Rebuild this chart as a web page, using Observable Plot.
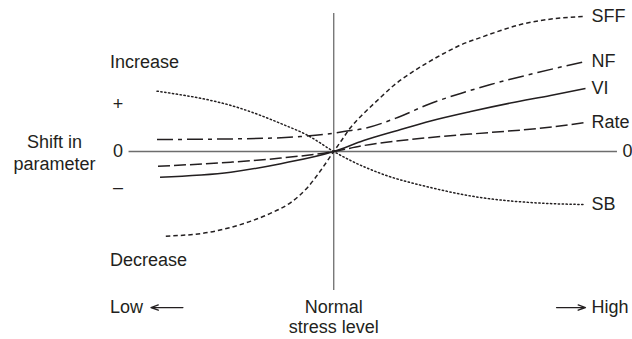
<!DOCTYPE html>
<html><head><meta charset="utf-8">
<script src="https://cdn.jsdelivr.net/npm/d3@7"></script>
<script src="https://cdn.jsdelivr.net/npm/@observablehq/plot@0.6"></script>
<style>
html,body{margin:0;padding:0;background:#fff;}
</style>
</head><body><div id="chart"></div>
<script>
// x: stress level (0 = normal, 1 = high end), y: shift in parameter
const sffX = [-0.667,-0.5,-0.409,-0.329,-0.250,-0.171,-0.103,-0.052,0,0.028,0.067,0.119,0.175,0.238,0.306,0.373,0.437,0.504,0.583,0.663,0.742,0.821,0.901,1.0];
const sffY = [-0.627,-0.600,-0.562,-0.516,-0.457,-0.378,-0.264,-0.141,0,0.074,0.178,0.282,0.381,0.489,0.581,0.659,0.726,0.789,0.844,0.896,0.941,0.970,0.989,1.0];
const nfX = [-0.702,-0.369,-0.131,0,0.040,0.119,0.254,0.385,0.516,0.623,0.810,1.0];
const nfY = [0.089,0.094,0.111,0.136,0.148,0.170,0.252,0.356,0.437,0.496,0.585,0.667];
const viX = [-0.690,-0.409,-0.210,0,0.119,0.254,0.385,0.544,0.702,0.861,1.0];
const viY = [-0.190,-0.153,-0.090,0,0.081,0.156,0.226,0.296,0.359,0.415,0.467];
const rateX = [-0.698,-0.409,-0.210,0,0.119,0.385,0.623,0.810,1.0];
const rateY = [-0.109,-0.079,-0.049,0,0.044,0.104,0.141,0.170,0.215];
const sbX = [-0.702,-0.369,-0.210,-0.103,0,0.067,0.187,0.385,0.583,0.782,1.0];
const sbY = [0.447,0.319,0.207,0.119,0,-0.067,-0.163,-0.267,-0.341,-0.378,-0.393];

const seriesNames = ["SFF","NF","VI","Rate","SB"];
const seriesDash = ["4.5,3","16,5,4,5",null,"12,4","1.3,2.6"];
const seriesXs = [sffX,nfX,viX,rateX,sbX];
const seriesYs = [sffY,nfY,viY,rateY,sbY];

const yTickLabels = ["+","0","–"];
const yTickValues = [0.348,0,-0.267];

const rows = [];
seriesNames.forEach((name,i)=>{
  seriesXs[i].forEach((x,j)=>rows.push({name,x,y:seriesYs[i][j]}));
});
const ends = seriesNames.map((name,i)=>({name,x:seriesXs[i].at(-1),y:seriesYs[i].at(-1)}));

const ink = "#231f20";
const grey = "#6d6d6d";
const marks = [
  Plot.ruleY([0],{x1:-0.813,x2:1.127,stroke:grey,strokeWidth:1.3}),
  Plot.ruleX([0],{y1:-1.03,y2:1.022,stroke:grey,strokeWidth:1.3}),
];
seriesNames.forEach((name,i)=>{
  marks.push(Plot.line(rows.filter(d=>d.name===name),{x:"x",y:"y",curve:"monotone-x",stroke:ink,strokeWidth:1.5,strokeDasharray:seriesDash[i]||undefined,strokeLinecap: name==="SB"?"round":"butt"}));
});
marks.push(Plot.text(ends,{x:"x",y:"y",text:"name",dx:6,textAnchor:"start",fill:ink}));
marks.push(Plot.text(yTickLabels,{x:()=>-0.857,y:(d,i)=>yTickValues[i],text:d=>d,fill:ink,fontWeight:(d)=>d==="–"?"bold":"normal"}));
marks.push(Plot.text(["0"],{x:()=>1.147,y:()=>0,textAnchor:"start",fill:ink}));
marks.push(Plot.text(["Increase"],{x:()=>-0.889,y:()=>0.659,textAnchor:"start",fill:ink}));
marks.push(Plot.text(["Decrease"],{x:()=>-0.889,y:()=>-0.807,textAnchor:"start",fill:ink}));
marks.push(Plot.text(["Shift in\nparameter"],{x:()=>-1.109,y:()=>0.0,lineHeight:1.22,fill:ink}));
marks.push(Plot.text(["Normal\nstress level"],{x:()=>0,y:()=>-1.226,lineHeight:1.1,fill:ink}));
marks.push(Plot.text(["Low"],{x:()=>-0.889,y:()=>-1.156,textAnchor:"start",fill:ink}));
marks.push(Plot.text(["High"],{x:()=>1.0,y:()=>-1.156,dx:6,textAnchor:"start",fill:ink}));
marks.push(Plot.arrow([{x1:-0.599,x2:-0.726},{x1:0.885,x2:1.0}],{x1:"x1",x2:"x2",y1:()=>-1.156,y2:()=>-1.156,stroke:ink,strokeWidth:1.3,headLength:9,headAngle:40}));

const chart = Plot.plot({
  width:632,height:339,margin:0,
  x:{domain:[-0.7,1],range:[157,585],axis:null},
  y:{domain:[-1,1],range:[286,16],axis:null},
  style:{fontFamily:"'Liberation Sans', Arial, Helvetica, sans-serif",fontSize:"18px",background:"#fff",overflow:"visible"},
  marks
});
document.getElementById("chart").appendChild(chart);
</script></body></html>
